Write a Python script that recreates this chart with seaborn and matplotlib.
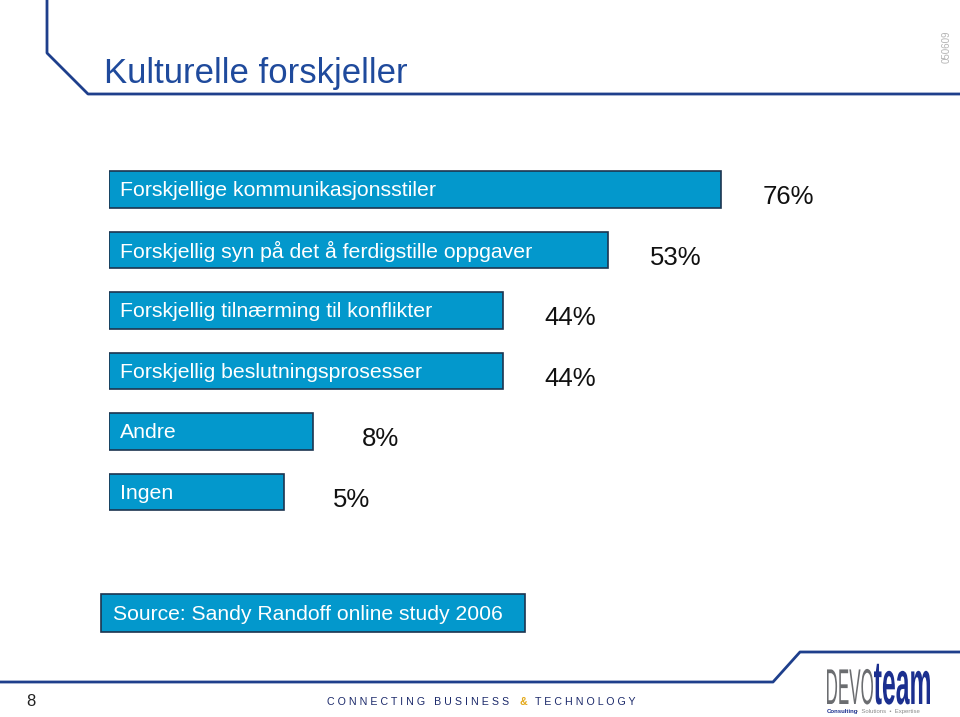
import matplotlib
matplotlib.use("Agg")
import matplotlib.pyplot as plt
import seaborn as sns
import pandas as pd
from matplotlib.patches import Rectangle, PathPatch
from matplotlib.textpath import TextPath
from matplotlib.font_manager import FontProperties
from matplotlib.transforms import Affine2D

# data
categories = [
    "Forskjellige kommunikasjonsstiler",
    "Forskjellig syn på det å ferdigstille oppgaver",
    "Forskjellig tilnærming til konflikter",
    "Forskjellig beslutningsprosesser",
    "Andre",
    "Ingen",
]
values = [76, 53, 44, 44, 8, 5]
# length of the text boxes as drawn on the slide (same % units as the 76% box)
box_lengths = [76, 62, 48.9, 48.9, 25.3, 21.7]

title = "Kulturelle forskjeller"
source = "Source: Sandy Randoff online study 2006"

BAR_BLUE = "#0398cc"
EDGE = "#1d3550"
NAVY = "#1e3f8c"

sns.set_theme(style="white")
plt.rcParams["font.family"] = ["Liberation Sans", "DejaVu Sans"]

fig = plt.figure(figsize=(9.6, 7.17), dpi=100)

# background axes in pixel coordinates for the slide decorations
bg = fig.add_axes([0, 0, 1, 1])
bg.set_xlim(0, 960)
bg.set_ylim(717, 0)
bg.axis("off")

bg.plot([47, 47, 88, 960], [0, 53, 94, 94], color=NAVY, lw=2)
bg.plot([0, 773, 800, 960], [682, 682, 652, 652], color=NAVY, lw=2)

bg.text(104, 83, title, fontsize=25, color="#1f4a9c", va="baseline", ha="left")
bg.text(947, 47, "050609", fontsize=7, color="#b5b5b5", rotation=90,
        ha="center", va="center")

# source box
bg.add_patch(Rectangle((101, 594), 424, 38, facecolor=BAR_BLUE,
                       edgecolor=EDGE, lw=1.2))
bg.text(113, 614, source, fontsize=15.2, color="white", va="center", ha="left")

# footer
bg.text(31, 701, "8", fontsize=12, color="#222222", ha="center", va="center")
bg.text(327, 702, "C O N N E C T I N G   B U S I N E S S", fontsize=7.7,
        color="#1c2a6b", ha="left", va="center")
bg.text(520, 702, "&", fontsize=7.7, color="#e3a91c", ha="left", va="center",
        fontweight="bold")
bg.text(535, 702, "T E C H N O L O G Y", fontsize=7.7, color="#1c2a6b",
        ha="left", va="center")


def logo_word(word, x0, base, width, height, ref_h, color, weight):
    tp = TextPath((0, 0), word, size=1,
                  prop=FontProperties(family="Liberation Sans", weight=weight))
    ext = tp.get_extents()
    sx = width / ext.width
    sy = height / ref_h
    tr = Affine2D().translate(-ext.x0, 0).scale(sx, -sy).translate(x0, base)
    bg.add_patch(PathPatch(tr.transform_path(tp), facecolor=color, lw=0))


logo_word("DEVO", 827, 704, 46, 36, 0.716, "#6b6d70", "normal")
logo_word("team", 874, 704, 56, 32, 0.519, "#1b2f8f", "bold")
bg.text(827, 711, "Consulting", fontsize=4.3, color="#1b2f8f",
        fontweight="bold", ha="left", va="center")
bg.text(856, 711, "•  Solutions  •  Expertise", fontsize=4.3, color="#8a8a8a",
        ha="left", va="center")

# the bar chart itself
df = pd.DataFrame({"kategori": categories, "lengde": box_lengths, "andel": values})

ax = fig.add_axes([109 / 960, 1 - 522.25 / 717, 851 / 960, 363 / 717])
sns.barplot(data=df, x="lengde", y="kategori", orient="h", color=BAR_BLUE,
            saturation=1, width=0.61, edgecolor=EDGE, linewidth=1.2, ax=ax)
ax.set_xlim(0, 851 / 8.053)
ax.set_ylim(5.5, -0.5)
ax.axis("off")

for i, (cat, length, val) in enumerate(zip(categories, box_lengths, values)):
    ax.text(1.4, i + 0.02, cat, color="white", fontsize=15.3, ha="left", va="center")
    ax.text(length + 8.4, i + 0.13, f"{val}%", color="#111111", fontsize=18.5,
            ha="center", va="center")

fig.savefig("out.png", dpi=100, facecolor="white")
